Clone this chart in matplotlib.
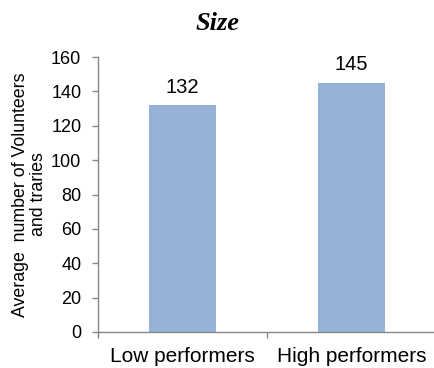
import matplotlib
matplotlib.use("Agg")
import matplotlib.pyplot as plt
import numpy as np

groups = ["Low performers", "High performers"]
avg_size = [132, 145]
y_ticks = [0, 20, 40, 60, 80, 100, 120, 140, 160]

plt.rcParams['font.family'] = ['Liberation Sans', 'DejaVu Sans']

fig = plt.figure(figsize=(4.35, 3.68), dpi=100)
ax = fig.add_axes([98 / 435, 1 - 332 / 368, 338 / 435, 275 / 368])

x = np.arange(len(groups))
bars = ax.bar(x, avg_size, width=0.4, color='#95B3D7', zorder=2)

for rect, v in zip(bars, avg_size):
    ax.annotate(str(v), (rect.get_x() + rect.get_width() / 2, v),
                xytext=(0, 6), textcoords='offset points',
                ha='center', va='bottom', fontsize=14.5)

ax.set_xlim(-0.5, len(groups) - 0.5)
ax.set_ylim(0, 160)
ax.set_yticks(y_ticks)
ax.tick_params(axis='y', labelsize=13, length=4, width=1, color='#868686', pad=8)

# category labels centred, tick marks only between categories
ax.set_xticks(x)
ax.set_xticklabels(groups, fontsize=15)
ax.set_xticks(np.arange(-0.5, len(groups)), minor=True)
ax.tick_params(axis='x', which='major', length=0, pad=11)
ax.tick_params(axis='x', which='minor', length=4, width=1, color='#868686')

for side in ['top', 'right']:
    ax.spines[side].set_visible(False)
for side in ['left', 'bottom']:
    ax.spines[side].set_color('#868686')
    ax.spines[side].set_linewidth(1)

ax.set_ylabel("Average  number of Volunteers\nand traries", fontsize=12.8,
              linespacing=1.05)
ax.yaxis.set_label_coords(-0.152, 0.50)

fig.text(218 / 435, 1 - 24 / 368, "Size", ha='center', va='center',
         fontsize=19, fontweight='bold', fontstyle='italic',
         family=['Liberation Serif', 'DejaVu Serif'])

fig.savefig('out.png', dpi=100)
